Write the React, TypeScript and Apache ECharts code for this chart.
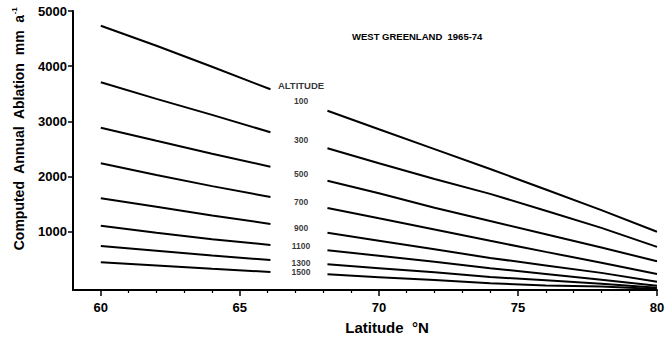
import React, { useEffect, useRef } from 'react';
import * as echarts from 'echarts';

// Latitude (°N) sample points of the two drawn segments of every curve
const LAT_LEFT = [60, 62, 64, 66.1];
const LAT_RIGHT = [68.15, 70, 72, 74, 76, 78, 80];

// Altitudes (m) of the curves
const ALTITUDES = ['100', '300', '500', '700', '900', '1100', '1300', '1500'];

// Computed annual ablation (mm a-1), left segment (60–66 °N)
const ABL_100_L = [4734, 4370, 3990, 3583];
const ABL_300_L = [3710, 3410, 3120, 2805];
const ABL_500_L = [2888, 2650, 2415, 2182];
const ABL_700_L = [2243, 2030, 1830, 1633];
const ABL_900_L = [1610, 1455, 1300, 1145];
const ABL_1100_L = [1114, 985, 870, 765];
const ABL_1300_L = [747, 660, 575, 493];
const ABL_1500_L = [452, 395, 335, 276];

// Computed annual ablation (mm a-1), right segment (68–80 °N)
const ABL_100_R = [3194, 2860, 2500, 2140, 1770, 1395, 1005];
const ABL_300_R = [2515, 2245, 1960, 1690, 1385, 1075, 730];
const ABL_500_R = [1929, 1700, 1440, 1200, 960, 720, 470];
const ABL_700_R = [1435, 1248, 1046, 840, 640, 445, 240];
const ABL_900_R = [987, 843, 687, 530, 395, 260, 100];
const ABL_1100_R = [669, 570, 463, 345, 240, 135, 25];
const ABL_1300_R = [415, 345, 270, 185, 125, 65, -10];
const ABL_1500_R = [234, 183, 130, 70, 32, 15, -30];

const LEFT = [ABL_100_L, ABL_300_L, ABL_500_L, ABL_700_L, ABL_900_L, ABL_1100_L, ABL_1300_L, ABL_1500_L];
const RIGHT = [ABL_100_R, ABL_300_R, ABL_500_R, ABL_700_R, ABL_900_R, ABL_1100_R, ABL_1300_R, ABL_1500_R];

// In-gap altitude labels (latitude, value where the label sits)
const LABEL_LAT = 67.2;
const HEADER_TEXT = 'ALTITUDE';
const HEADER_VALUE = 3643;
const LABEL_VALUES = [3377, 2665, 2050, 1543, 1072, 752, 444, 271];

// Axes
const X_MIN = 59;
const X_MAX = 80;
const X_MAJOR = [60, 65, 70, 75, 80];
const X_MINOR = [61, 62, 63, 64, 66, 67, 68, 69, 71, 72, 73, 74, 76, 77, 78, 79];
const Y_MIN = -50;
const Y_MAX = 5000;
const Y_TICKS = [1000, 2000, 3000, 4000, 5000];

const TITLE = 'WEST GREENLAND  1965-74';
const X_NAME = 'Latitude  °N';
const Y_NAME = 'Computed  Annual  Ablation  mm  a';
const Y_NAME_SUP = '-1';

const SANS = "'Liberation Sans', Arial, Helvetica, sans-serif";

export default function App() {
  const ref = useRef<HTMLDivElement>(null);

  useEffect(() => {
    if (!ref.current) return;
    const chart = echarts.init(ref.current, null, { renderer: 'svg' });

    const series: any[] = [];
    ALTITUDES.forEach((alt, i) => {
      const common = {
        type: 'line',
        symbol: 'none',
        silent: true,
        xAxisIndex: 0,
        yAxisIndex: 0,
        lineStyle: { color: '#000', width: 2 },
        emphasis: { disabled: true },
      };
      series.push({ ...common, name: alt + ' m (south)', data: LAT_LEFT.map((x, j) => [x, LEFT[i][j]]) });
      series.push({ ...common, name: alt + ' m (north)', data: LAT_RIGHT.map((x, j) => [x, RIGHT[i][j]]) });
    });

    const labelData = [
      { name: HEADER_TEXT, value: [LABEL_LAT, HEADER_VALUE], label: { fontSize: 9.5 } },
      ...ALTITUDES.map((a, i) => ({ name: a, value: [LABEL_LAT, LABEL_VALUES[i]] })),
    ];
    series.push({
      type: 'scatter',
      name: 'labels',
      silent: true,
      symbolSize: 1,
      itemStyle: { color: 'rgba(0,0,0,0)' },
      emphasis: { disabled: true },
      data: labelData,
      label: {
        show: true,
        position: 'inside',
        formatter: '{b}',
        color: '#000',
        fontFamily: SANS,
        fontWeight: 'bold',
        fontSize: 8.5,
      },
    });

    chart.setOption({
      animation: false,
      backgroundColor: '#fff',
      title: {
        text: TITLE,
        left: 352,
        top: 31,
        padding: 0,
        textStyle: { fontFamily: SANS, fontWeight: 'bold', fontSize: 9.5, color: '#000' },
      },
      grid: { left: 73, right: 9, top: 11, bottom: 51, containLabel: false, outerBoundsMode: 'none' },
      xAxis: [
        {
          type: 'value',
          min: X_MIN,
          max: X_MAX,
          position: 'bottom',
          axisLine: { show: true, onZero: false, lineStyle: { color: '#000', width: 2 } },
          axisTick: { show: true, customValues: X_MAJOR, length: 6, lineStyle: { color: '#000', width: 1.5 } },
          axisLabel: {
            show: true,
            customValues: X_MAJOR,
            margin: 11,
            color: '#000',
            fontFamily: SANS,
            fontWeight: 'bold',
            fontSize: 13,
            formatter: (v: number) => String(v),
          },
          splitLine: { show: false },
        },
        {
          type: 'value',
          min: X_MIN,
          max: X_MAX,
          position: 'bottom',
          offset: 0,
          axisLine: { show: false, onZero: false },
          axisTick: { show: true, customValues: X_MINOR, length: 3, lineStyle: { color: '#000', width: 1.2 } },
          axisLabel: { show: false },
          splitLine: { show: false },
        },
      ],
      yAxis: {
        type: 'value',
        min: Y_MIN,
        max: Y_MAX,
        axisLine: { show: true, onZero: false, lineStyle: { color: '#000', width: 2 } },
        axisTick: { show: true, customValues: Y_TICKS, length: 5, lineStyle: { color: '#000', width: 1.5 } },
        axisLabel: {
          show: true,
          customValues: Y_TICKS,
          margin: 6,
          color: '#000',
          fontFamily: SANS,
          fontWeight: 'bold',
          fontSize: 13,
          formatter: (v: number) => String(v),
        },
        splitLine: { show: false },
      },
      graphic: [
        {
          type: 'text',
          x: 18,
          y: 129,
          rotation: Math.PI / 2,
          style: {
            text: '{n|' + Y_NAME + '}{s|' + Y_NAME_SUP + '}',
            align: 'center',
            verticalAlign: 'middle',
            fill: '#000',
            rich: {
              n: { fontFamily: SANS, fontWeight: 'bold', fontSize: 14, verticalAlign: 'bottom' },
              s: { fontFamily: SANS, fontWeight: 'bold', fontSize: 8, verticalAlign: 'bottom', padding: [0, 0, 7, 0] },
            },
          },
        },
        {
          type: 'text',
          x: 387,
          y: 327,
          style: {
            text: X_NAME,
            align: 'center',
            verticalAlign: 'middle',
            fill: '#000',
            fontFamily: SANS,
            fontWeight: 'bold',
            fontSize: 15,
          },
        },
      ],
      series,
    });

    return () => chart.dispose();
  }, []);

  return (
    <div
      ref={ref}
      style={{ position: 'fixed', left: 0, top: 0, width: 666, height: 341, background: '#fff' }}
    />
  );
}
